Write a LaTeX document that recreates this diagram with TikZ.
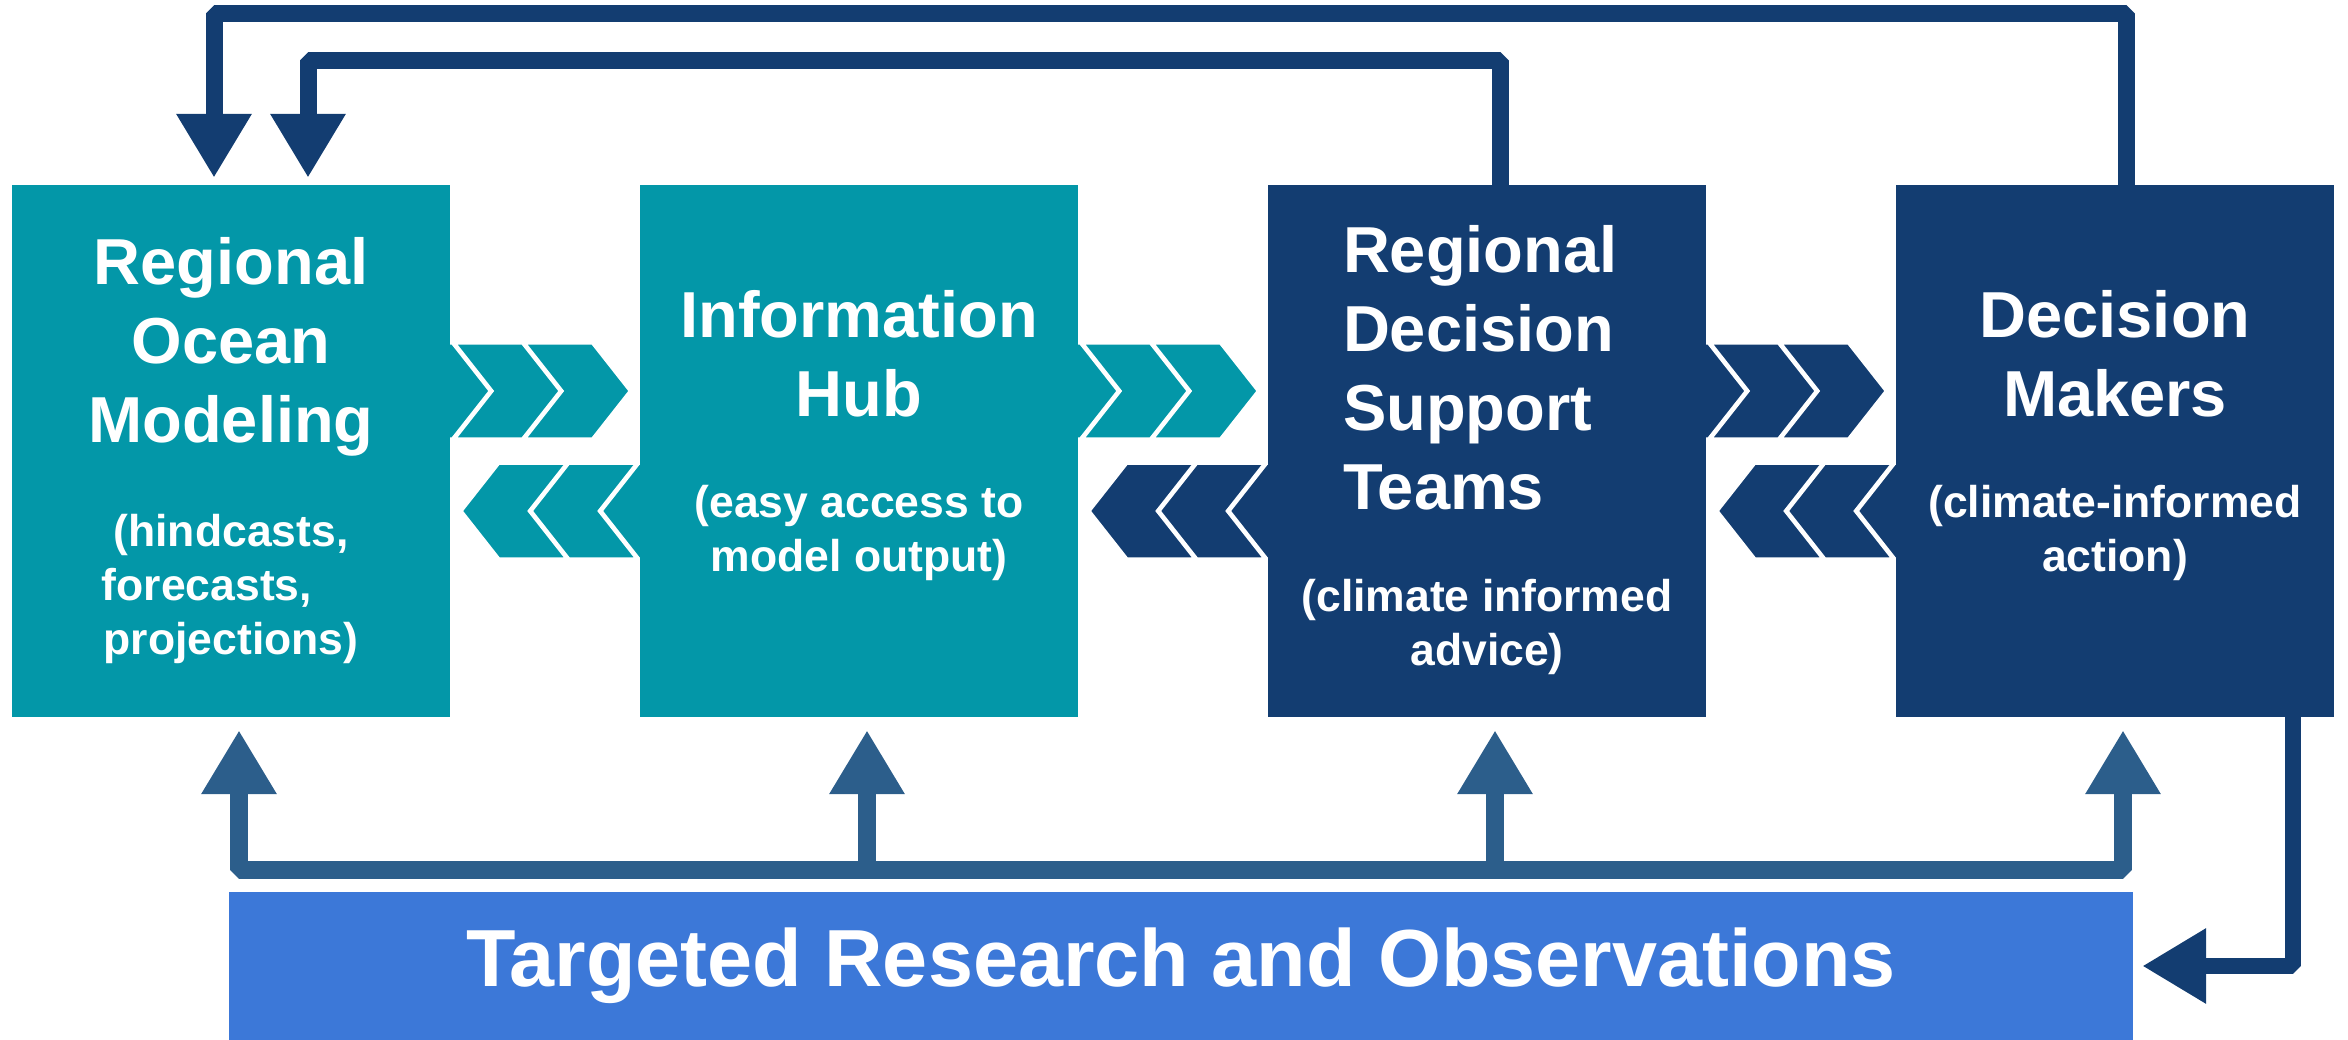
\documentclass[tikz,border=0pt]{standalone}
\usepackage{fontspec}
\setmainfont{Liberation Sans}
\usetikzlibrary{arrows.meta}
\usetikzlibrary{calc}
\definecolor{oceanteal}{HTML}{0397A8}
\definecolor{deepnavy}{HTML}{133D71}
\definecolor{steelblue}{HTML}{2C5E8B}
\definecolor{barblue}{HTML}{3C78D8}
\newcommand{\titlef}{\fontsize{65}{79}\selectfont\spaceskip=\fontdimen2\font\xspaceskip=\fontdimen2\font\relax}
\newcommand{\subf}{\fontsize{44.5}{54}\selectfont\spaceskip=\fontdimen2\font\xspaceskip=\fontdimen2\font\relax}

\begin{document}
\begin{tikzpicture}[x=1pt,y=-1pt,node distance=628pt,
  >={Triangle[length=64pt,width=71pt]},
  box node/.style={rectangle,inner sep=0pt,minimum width=438pt,minimum height=532pt,
    text width=430pt,text height=0pt,align=center,text=white,font=\bfseries},
  teal node/.style={box node,fill=oceanteal},
  navy node/.style={box node,fill=deepnavy},
  research node/.style={rectangle,inner sep=0pt,minimum width=1904pt,minimum height=148pt,
    fill=barblue,text=white,font=\bfseries\fontsize{81}{97}\selectfont},
  chev/.style={draw=white,line width=1.5pt},
  top arrow/.style={draw=deepnavy,line width=17pt,line join=bevel,->,shorten >=7pt},
  bus arrow/.style={draw=steelblue,line width=18pt,line join=bevel},
  side arrow/.style={draw=deepnavy,line width=16pt,line join=bevel,->,shorten >=9pt}]

  \useasboundingbox (0,0) rectangle (2348,1040);

  \node[teal node,text depth=332pt] (1) at (231,451) {\titlef Regional\\Ocean\\Modeling\par
    \vspace{50pt}\subf(hindcasts,\\forecasts,\hspace{48pt}\mbox{}\\projections)\par};
  \node[teal node,text depth=226pt] (2) [right of=1] {\titlef Information\\Hub\par
    \vspace{47pt}\subf(easy access to\\model output)\par};
  \node[navy node,text depth=356pt] (3) [right of=2] {{\titlef\leftskip=71pt\rightskip=0pt plus 1fil\relax
    Regional\\Decision\\Support\\Teams\par}
    \vspace{48pt}\subf(climate informed\\advice)\par};
  \node[navy node,text depth=226pt] (4) [right of=3] {\titlef Decision\\Makers\par
    \vspace{47pt}\subf(climate-informed\\action)\par};
  \node[research node] (5) at (1181,966) {Targeted Research and Observations};

  \foreach \a/\b/\ca/\cb in {1/2/oceanteal/oceanteal,2/3/oceanteal/deepnavy,3/4/deepnavy/deepnavy}{
    \begin{scope}
      \clip (\a.north east) rectangle (\b.south west);
      \foreach \k in {0,1,2}{
        \filldraw[chev,fill=\ca] ($(\a.east)+({39+70*\k},-60)$) -- ++(-37,47) -- ++(-66,0)
          -- ++(37,-47) -- ++(-37,-47) -- ++(66,0) -- cycle;
        \filldraw[chev,fill=\cb] ($(\a.east)+({12+70*\k},60)$) -- ++(37,-47) -- ++(66,0)
          -- ++(-37,47) -- ++(37,47) -- ++(-66,0) -- cycle;
      }
    \end{scope}
  }

  \draw[top arrow] ($(4.north)+(11,0)$) -- ++(0,-171) -| ($(1.north)+(-17,0)$);
  \draw[top arrow] ($(3.north)+(13,0)$) -- ++(0,-124) -| ($(1.north)+(77,0)$);

  \coordinate (bus) at ($(5.north)+(0,-22)$);
  \foreach \n in {1,...,4} \coordinate (t\n) at ($(\n.south)+(8,0)$);
  \draw[bus arrow,<->,shorten <=13pt,shorten >=13pt] (t1) |- (bus) -| (t4);
  \foreach \n in {2,3} \draw[bus arrow,<-,shorten <=13pt] (t\n) -- (t\n |- bus);

  \draw[side arrow] ($(4.south east)+(-41,0)$) |- (5.east);
\end{tikzpicture}
\end{document}
